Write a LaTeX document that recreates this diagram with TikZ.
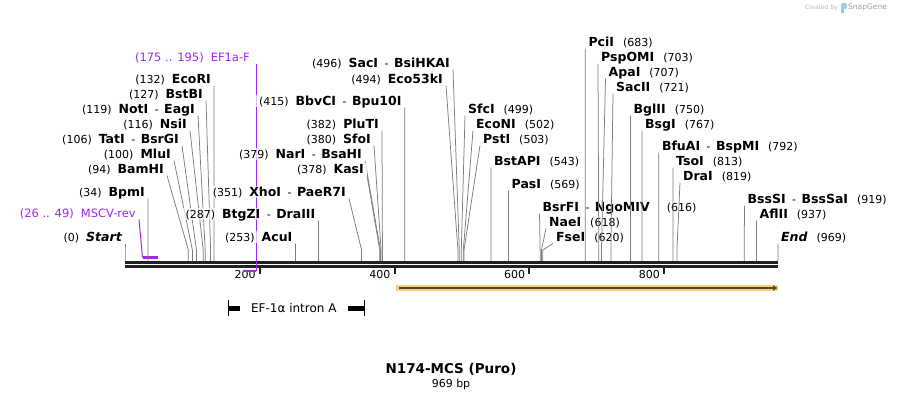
\documentclass[tikz,border=0pt]{standalone}
\usepackage{fontspec}
\setmainfont{DejaVu Sans}
\usepackage{xcolor}
\usepackage{tikz}
\usetikzlibrary{arrows.meta, positioning, calc}

\definecolor{primerpurple}{RGB}{160,40,240}
\definecolor{featorange}{RGB}{250,204,125}
\definecolor{featbrown}{RGB}{88,70,42}
\definecolor{sitegray}{RGB}{125,125,125}
\definecolor{logoblue}{RGB}{150,205,245}

\newcommand{\bpx}[1]{125+0.6739*#1}
\newcommand{\enz}[1]{{\fontsize{12.5}{13}\selectfont\bfseries #1}}
\newcommand{\iso}{\hspace{6.5pt}-\hspace{5.5pt}}
% cut site, label left of its line
\newcommand{\siteL}[5]{%
  \coordinate (#1-cut) at ({\bpx{#2}},261);
  \node[lbl, anchor=south east] (#1) at (#3,#4) {#5};
  \draw[siteline] (#1-cut) -- ++(0,-11) -- (#1.south east);
}
% cut site, label right of its line
\newcommand{\siteR}[5]{%
  \coordinate (#1-cut) at ({\bpx{#2}},261);
  \node[lbl, anchor=south west] (#1) at (#3,#4) {#5};
  \draw[siteline] (#1-cut) -- ++(0,-11) -- (#1.south west);
}

\begin{document}
\begin{tikzpicture}[x=1pt, y=-1pt, >=Stealth]
    \tikzset{
        lbl/.style={font=\fontsize{11}{13}\selectfont, inner xsep=3pt, inner ysep=1pt, text height=9pt, text depth=1pt, fill=white, fill opacity=0.7, text opacity=1},
        primerlbl/.style={lbl, font=\fontsize{11.5}{13}\selectfont, text=primerpurple},
        siteline/.style={draw=sitegray, line width=0.75pt},
        backbone/.style={draw=black!87, line width=2.7pt},
        tick/.style={draw=black!87, line width=2pt},
        primerline/.style={draw=primerpurple, line width=1pt},
        primerbar/.style={draw=primerpurple, line width=2.5pt},
    }
    \useasboundingbox (0,0) rectangle (904,400);

    % sequence backbone and ruler
    \draw[backbone] (125,262.3) -- (778,262.3);
    \draw[backbone] (125,266.3) -- (778,266.3);
    \foreach \t in {200,400,600,800} {
        \draw[tick] ({\bpx{\t}},267) -- ++(0,7);
        \node[font=\fontsize{11}{13}\selectfont, inner sep=1pt, anchor=east] (ruler\t) at ({\bpx{\t}-3},274.5) {\t};
    }

    % primers
    \coordinate (ef-5) at ({\bpx{175}},271);
    \coordinate (ef-3) at ({\bpx{195}},271);
    \node[primerlbl, anchor=south east] (ef1a) at (253,63.5) {(175 .. 195)\hspace{7pt}EF1a-F};
    \draw[primerline] (ef1a.south east -| ef-3) -- (ef-3);
    \draw[primerbar] (ef-5) -- (ef-3);

    \coordinate (ms-3) at ({\bpx{26}},257.7);
    \coordinate (ms-5) at ({\bpx{49}},257.7);
    \node[primerlbl, anchor=south east] (mscv) at (139,219.5) {(26 .. 49)\hspace{7pt}MSCV-rev};
    \draw[primerline] (mscv.south east) -- (ms-3);
    \draw[primerbar] (ms-3) -- (ms-5);

    % sites, left block
    \siteL{ecori}{132}{214}{85.5}{(132)\hspace{7pt}\enz{EcoRI}}
    \siteL{bstbi}{127}{206}{100.5}{(127)\hspace{7pt}\enz{BstBI}}
    \siteL{noti}{119}{198}{115.5}{(119)\hspace{7pt}\enz{NotI}\iso\enz{EagI}}
    \siteL{nsii}{116}{190}{130.5}{(116)\hspace{7pt}\enz{NsiI}}
    \siteL{tati}{106}{182}{145.5}{(106)\hspace{7pt}\enz{TatI}\iso\enz{BsrGI}}
    \siteL{mlui}{100}{174}{160.5}{(100)\hspace{7pt}\enz{MluI}}
    \siteL{bamhi}{94}{167}{175.5}{(94)\hspace{7pt}\enz{BamHI}}
    \siteL{bpmi}{34}{148}{198.5}{(34)\hspace{7pt}\enz{BpmI}}
    \siteL{start}{0}{125}{243.5}{(0)\hspace{7pt}\enz{\itshape Start}}

    % sites, middle block
    \siteL{saci}{496}{453}{69.5}{(496)\hspace{7pt}\enz{SacI}\iso\enz{BsiHKAI}}
    \siteL{ecofs}{494}{446}{85.5}{(494)\hspace{7pt}\enz{Eco53kI}}
    \siteL{bbvci}{415}{404.7}{107.5}{(415)\hspace{7pt}\enz{BbvCI}\iso\enz{Bpu10I}}
    \siteL{pluti}{382}{382}{130.5}{(382)\hspace{7pt}\enz{PluTI}}
    \siteL{sfoi}{380}{374}{145.5}{(380)\hspace{7pt}\enz{SfoI}}
    \siteL{nari}{379}{365}{160.5}{(379)\hspace{7pt}\enz{NarI}\iso\enz{BsaHI}}
    \siteL{kasi}{378}{367}{175.5}{(378)\hspace{7pt}\enz{KasI}}
    \siteL{xhoi}{351}{349}{198.5}{(351)\hspace{7pt}\enz{XhoI}\iso\enz{PaeR7I}}
    \siteL{btgzi}{287}{318.4}{220.5}{(287)\hspace{7pt}\enz{BtgZI}\iso\enz{DraIII}}
    \siteL{acui}{253}{295.5}{243.5}{(253)\hspace{7pt}\enz{AcuI}}

    \siteR{sfci}{499}{465}{115.5}{\enz{SfcI}\hspace{9pt}(499)}
    \siteR{econi}{502}{473}{130.5}{\enz{EcoNI}\hspace{9pt}(502)}
    \siteR{psti}{503}{480}{145.5}{\enz{PstI}\hspace{9pt}(503)}
    \siteR{bstapi}{543}{491}{167.5}{\enz{BstAPI}\hspace{9pt}(543)}
    \siteR{pasi}{569}{508.5}{190.5}{\enz{PasI}\hspace{9pt}(569)}
    \siteR{bsrfi}{616}{539.5}{213.5}{\enz{BsrFI}\iso\enz{NgoMIV}\hspace{17pt}(616)}
    \siteR{naei}{618}{546}{228.5}{\enz{NaeI}\hspace{9pt}(618)}
    \siteR{fsei}{620}{553}{243.5}{\enz{FseI}\hspace{9pt}(620)}

    % sites, right block
    \siteR{pcii}{683}{585.3}{48.5}{\enz{PciI}\hspace{9pt}(683)}
    \siteR{pspomi}{703}{598}{63.5}{\enz{PspOMI}\hspace{9pt}(703)}
    \siteR{apai}{707}{605.5}{78.5}{\enz{ApaI}\hspace{9pt}(707)}
    \siteR{sacii}{721}{613}{93.5}{\enz{SacII}\hspace{9pt}(721)}
    \siteR{bglii}{750}{630.5}{115.5}{\enz{BglII}\hspace{9pt}(750)}
    \siteR{bsgi}{767}{642}{130.5}{\enz{BsgI}\hspace{9pt}(767)}
    \siteR{bfuai}{792}{658.8}{152.5}{\enz{BfuAI}\iso\enz{BspMI}\hspace{9pt}(792)}
    \siteR{tsoi}{813}{673}{167.5}{\enz{TsoI}\hspace{9pt}(813)}
    \siteR{drai}{819}{680}{182.5}{\enz{DraI}\hspace{9pt}(819)}
    \siteR{bsssi}{919}{744.4}{205.5}{\enz{BssSI}\iso\enz{BssSaI}\hspace{9pt}(919)}
    \siteR{aflii}{937}{756.5}{220.5}{\enz{AflII}\hspace{9pt}(937)}
    \siteR{endmark}{969}{778}{243.5}{\enz{\itshape End}\hspace{9pt}(969)}

    % features
    \coordinate (puro-a) at (396,288);
    \coordinate (puro-b) at (778,288);
    \draw[featorange, line width=6.5pt] (puro-a) -- (puro-b);
    \draw[featbrown, line width=1.8pt, -{Triangle[length=4.5pt, width=5pt]}] ($(puro-a)+(2.5,0)$) -- ($(puro-b)+(-0.5,0)$);

    \coordinate (intr-a) at (228,308);
    \coordinate (intr-b) at (364,308);
    \draw[line width=1pt] (intr-a) ++(0,-8) -- ++(0,16);
    \draw[line width=1pt] (intr-b) ++(0,-8) -- ++(0,16);
    \draw[line width=5pt] (intr-a) -- ++(12,0);
    \draw[line width=5pt] (intr-b) -- ++(-16,0);
    \node[font=\fontsize{12}{14}\selectfont, inner sep=1pt] (intron) at ($(intr-a)!0.484!(intr-b)$) {EF-1α intron A};

    % title
    \node[font=\fontsize{13.5}{15}\selectfont\bfseries, inner sep=0pt] (title) at (451,369) {N174-MCS (Puro)};
    \node[font=\fontsize{11}{13}\selectfont, inner sep=0pt, below=4pt of title] (len) {969 bp};

    % watermark
    \node[font=\fontsize{6}{7}\selectfont, text=black!28, inner sep=0pt, anchor=east] (made) at (838,7.5) {Created by};
    \fill[logoblue, rounded corners=1pt] (841,3) rectangle (846.5,9);
    \fill[logoblue] (841,8) rectangle (843.5,13);
    \node[font=\fontsize{7.5}{9}\selectfont, text=black!38, inner sep=0pt, anchor=west] (brand) at (848,7.5) {SnapGene};
\end{tikzpicture}
\end{document}
